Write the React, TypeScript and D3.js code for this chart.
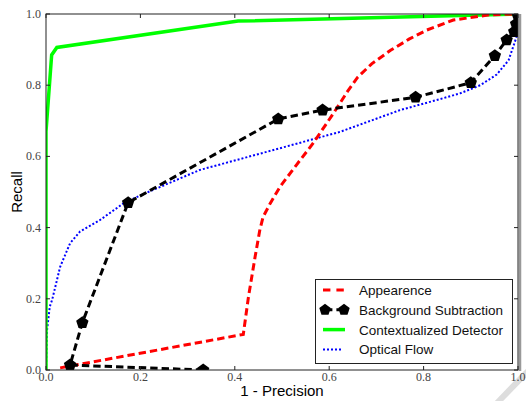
import React from "react";
import * as d3 from "d3";

const xTicks = [0.0, 0.2, 0.4, 0.6, 0.8, 1.0];
const yTicks = [0.0, 0.2, 0.4, 0.6, 0.8, 1.0];

const appearance: [number, number][] = [
  [0.03, 0.006], [0.418, 0.1], [0.429, 0.206], [0.443, 0.318], [0.453, 0.393],
  [0.46, 0.43], [0.475, 0.468], [0.496, 0.515], [0.53, 0.575], [0.566, 0.637],
  [0.609, 0.721], [0.64, 0.785], [0.66, 0.822], [0.69, 0.86], [0.73, 0.898],
  [0.77, 0.93], [0.807, 0.955], [0.863, 0.983], [0.941, 0.998], [1.0, 1.0],
];

const background: [number, number][] = [
  [0.333, 0.0], [0.051, 0.014], [0.077, 0.133], [0.174, 0.47], [0.492, 0.705],
  [0.586, 0.73], [0.783, 0.766], [0.9, 0.807], [0.951, 0.883], [0.976, 0.927],
  [0.992, 0.95], [0.996, 0.972], [1.0, 0.994],
];

const contextual: [number, number][] = [
  [0, 0], [0, 0.67], [0.012, 0.885], [0.023, 0.906], [0.407, 0.98], [1.0, 1.0],
];

const opticalFlow: [number, number][] = [
  [0, 0], [0.002, 0.11], [0.008, 0.178], [0.013, 0.197], [0.03, 0.29],
  [0.051, 0.356], [0.072, 0.389], [0.114, 0.421], [0.164, 0.468], [0.199, 0.49],
  [0.326, 0.562], [0.34, 0.567], [0.482, 0.618], [0.623, 0.669], [0.75, 0.73],
  [0.835, 0.761], [0.877, 0.777], [0.92, 0.8], [0.955, 0.83], [0.98, 0.87],
  [0.997, 0.936], [1.0, 1.0],
];

const legendLabels = [
  "Appearence",
  "Background Subtraction",
  "Contextualized Detector",
  "Optical Flow",
];

const W = 526;
const H = 401;
const X0 = 46, X1 = 518, Y0 = 14, Y1 = 370;

function pentagon(cx: number, cy: number, r: number) {
  const pts: string[] = [];
  for (let k = 0; k < 5; k++) {
    const a = -Math.PI / 2 + (k * 2 * Math.PI) / 5;
    pts.push(`${cx + r * Math.cos(a)},${cy + r * Math.sin(a)}`);
  }
  return `M${pts.join("L")}Z`;
}

export default function App() {
  const x = d3.scaleLinear().domain([0, 1]).range([X0, X1]);
  const y = d3.scaleLinear().domain([0, 1]).range([Y1, Y0]);
  const line = d3
    .line<[number, number]>()
    .x((d) => x(d[0]))
    .y((d) => y(d[1]));

  const serif = "'Liberation Serif', 'DejaVu Serif', serif";
  const sans = "'Liberation Sans', Arial, sans-serif";

  const lgX = 315.5, lgY = 279.5, lgW = 197, lgH = 84;
  const rowY = (i: number) => 290 + i * 19.8;

  return (
    <svg
      width={W}
      height={H}
      style={{ position: "absolute", left: 0, top: 0, background: "#fff" }}
    >
      <defs>
        <clipPath id="plotclip">
          <rect x={X0} y={Y0} width={X1 - X0} height={Y1 - Y0} />
        </clipPath>
      </defs>
      {/* shadow decorations */}
      <line x1={520} y1={Y0} x2={520} y2={Y1 + 1} stroke="#999" strokeWidth={2.5} />
      <line x1={497} y1={403} x2={528} y2={371} stroke="#ddd" strokeWidth={6} />

      <g clipPath="url(#plotclip)">
        <path d={line(opticalFlow) || ""} fill="none" stroke="#0000ff" strokeWidth={2} strokeDasharray="2,2" />
        <path d={line(contextual) || ""} fill="none" stroke="#00ff00" strokeWidth={3.5} />
        <path d={line(appearance) || ""} fill="none" stroke="#ff0000" strokeWidth={3} strokeDasharray="7.4,4" />
        <path d={line(background) || ""} fill="none" stroke="#000" strokeWidth={3} strokeDasharray="7.4,4" />
        {background.map((d, i) => (
          <path key={i} d={pentagon(x(d[0]), y(d[1]), 6.5)} fill="#000" />
        ))}
      </g>

      {/* spines */}
      <rect x={X0} y={Y0} width={X1 - X0} height={Y1 - Y0} fill="none" stroke="#222" strokeWidth={1} />

      {/* ticks */}
      {xTicks.map((t) => (
        <g key={"x" + t}>
          <line x1={x(t)} x2={x(t)} y1={Y1} y2={Y1 - 4} stroke="#222" />
          <line x1={x(t)} x2={x(t)} y1={Y0} y2={Y0 + 4} stroke="#222" />
          <text x={x(t)} y={381} textAnchor="middle" fontFamily={serif} fontSize={12} fill="#444">
            {t.toFixed(1)}
          </text>
        </g>
      ))}
      {yTicks.map((t) => (
        <g key={"y" + t}>
          <line x1={X0} x2={X0 + 4} y1={y(t)} y2={y(t)} stroke="#222" />
          <line x1={X1} x2={X1 - 4} y1={y(t)} y2={y(t)} stroke="#222" />
          <text x={41} y={y(t) + 4} textAnchor="end" fontFamily={serif} fontSize={12} fill="#444">
            {t.toFixed(1)}
          </text>
        </g>
      ))}

      {/* axis labels */}
      <text x={(X0 + X1) / 2} y={396} textAnchor="middle" fontFamily={sans} fontSize={15} fill="#000">
        1 - Precision
      </text>
      <text
        transform={`translate(22, ${(Y0 + Y1) / 2}) rotate(-90)`}
        textAnchor="middle"
        fontFamily={sans}
        fontSize={15}
        fill="#000"
      >
        Recall
      </text>

      {/* legend */}
      <rect x={lgX} y={lgY} width={lgW} height={lgH} fill="#fff" stroke="#222" strokeWidth={1} />
      <line x1={323} x2={344} y1={rowY(0)} y2={rowY(0)} stroke="#ff0000" strokeWidth={3} strokeDasharray="7.4,6" />
      <line x1={325} x2={344} y1={rowY(1)} y2={rowY(1)} stroke="#000" strokeWidth={3} strokeDasharray="7.4,4" />
      <path d={pentagon(325, rowY(1), 6)} fill="#000" />
      <path d={pentagon(344, rowY(1), 6)} fill="#000" />
      <line x1={323} x2={345} y1={rowY(2)} y2={rowY(2)} stroke="#00ff00" strokeWidth={3.5} />
      <line x1={323} x2={343} y1={rowY(3)} y2={rowY(3)} stroke="#0000ff" strokeWidth={2} strokeDasharray="2,2" />
      {legendLabels.map((l, i) => (
        <text key={l} x={359} y={rowY(i) + 5} fontFamily={sans} fontSize={13.5} fill="#111">
          {l}
        </text>
      ))}
    </svg>
  );
}
